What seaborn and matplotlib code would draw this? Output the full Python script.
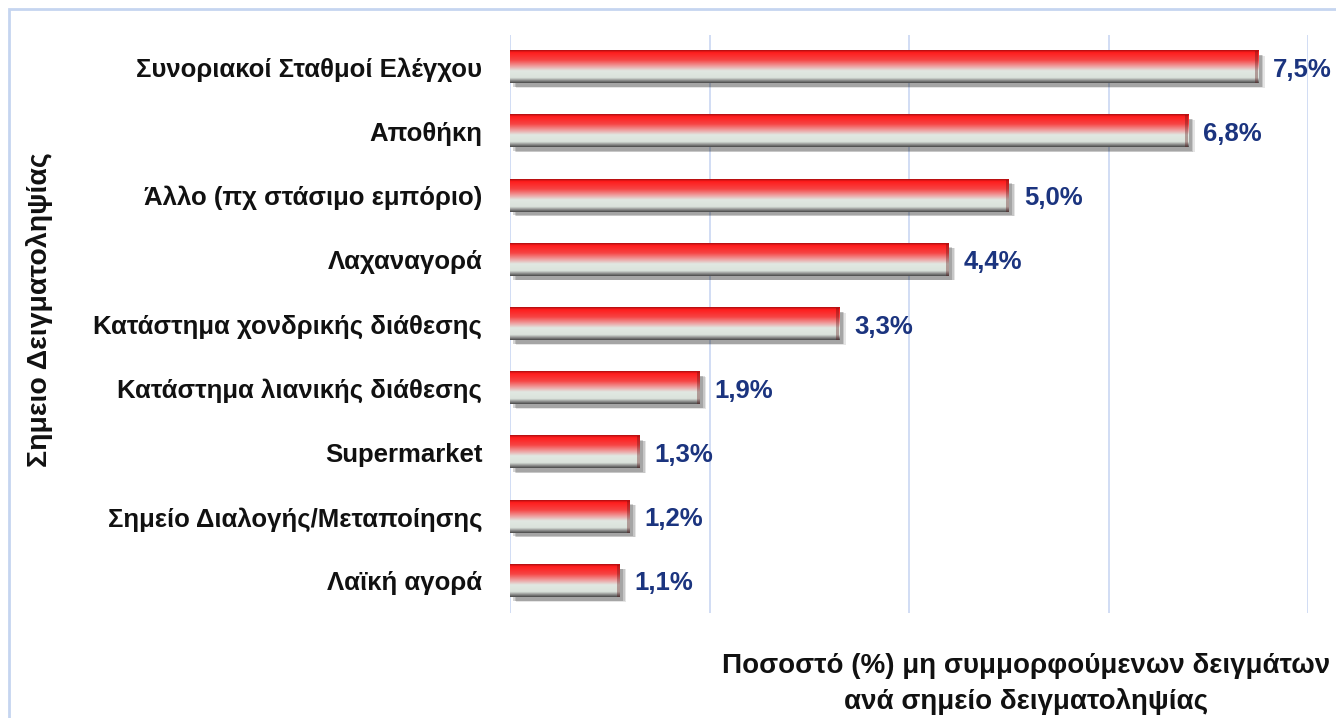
import numpy as np
import pandas as pd
import matplotlib
matplotlib.use("Agg")
import matplotlib.pyplot as plt
import seaborn as sns
from matplotlib.colors import LinearSegmentedColormap
from matplotlib.patches import Rectangle

categories = ["Συνοριακοί Σταθμοί Ελέγχου", "Αποθήκη", "Άλλο (πχ στάσιμο εμπόριο)",
              "Λαχαναγορά", "Κατάστημα χονδρικής διάθεσης", "Κατάστημα λιανικής διάθεσης",
              "Supermarket", "Σημείο Διαλογής/Μεταποίησης", "Λαϊκή αγορά"]
values = [7.5, 6.8, 5.0, 4.4, 3.3, 1.9, 1.3, 1.2, 1.1]
value_labels = ["7,5%", "6,8%", "5,0%", "4,4%", "3,3%", "1,9%", "1,3%", "1,2%", "1,1%"]
xlabel = "Ποσοστό (%) μη συμμορφούμενων δειγμάτων\nανά σημείο δειγματοληψίας"
ylabel = "Σημειο Δειγματοληψίας"

sns.set_theme(style="white")
FONT = ["Liberation Sans", "DejaVu Sans"]
plt.rcParams["font.family"] = FONT

df = pd.DataFrame({"cat": categories, "val": values})

fig = plt.figure(figsize=(13.36, 7.18), dpi=100)
W, H = 1336, 718
ax = fig.add_axes([510 / W, 1 - 613 / H, (1308 - 510) / W, (613 - 35) / H])

sns.barplot(data=df, x="val", y="cat", orient="h", width=0.5, ax=ax,
            color="red", edgecolor="none", zorder=3)

grad = LinearSegmentedColormap.from_list("bar", [
    (0.0, "#a80d10"), (0.07, "#ff1c1c"), (0.30, "#f64444"), (0.50, "#eea4a4"),
    (0.63, "#e1e8e2"), (0.84, "#dbe3dc"), (0.91, "#9a9c9a"), (1.0, "#474747")])
gimg = grad(np.linspace(0, 1, 256))[:, None, :]

for p, v, lab in zip(list(ax.patches), values, value_labels):
    x0, y0, w, h = p.get_x(), p.get_y(), p.get_width(), p.get_height()
    p.set_facecolor("none")
    for i, a in enumerate([0.10, 0.13, 0.17]):
        off = 0.015 * (3 - i)
        ax.add_patch(Rectangle((x0 + 0.02 + off, y0 + 0.05 + off * 0.5), w, h,
                               facecolor="black", alpha=a, edgecolor="none", zorder=2))
    ax.imshow(gimg, extent=(x0, x0 + w, y0 + h, y0), origin="upper",
              aspect="auto", zorder=3, interpolation="bilinear")
    ax.add_patch(Rectangle((x0 + w - 0.03, y0), 0.03, h, facecolor="#5a1010",
                           alpha=0.35, edgecolor="none", zorder=4))
    ax.text(v + 0.15, y0 + h / 2 + 0.04, lab, ha="left", va="center",
            fontsize=18.5, fontweight="bold", color="#1b347f", zorder=5)

ax.set_xlim(0, 8)
ax.set_ylim(len(categories) - 0.5, -0.5)
ax.set_xticks([0, 2, 4, 6, 8])
ax.set_xticklabels([])
ax.tick_params(axis="x", length=0)
ax.tick_params(axis="y", length=0, pad=20, labelsize=18.5)
for t in ax.get_yticklabels():
    t.set_fontweight("bold")
    t.set_color("#111111")
ax.grid(axis="x", color="#c9d7f2", linewidth=1.2, zorder=0)
ax.grid(axis="y", visible=False)
for s in ax.spines.values():
    s.set_visible(False)
ax.set_xlabel("")
ax.set_ylabel("")

fig.text(40 / W, 1 - 310 / H, ylabel, rotation=90, ha="center", va="center",
         fontsize=20.5, fontweight="bold", color="#111111")
fig.text(1026 / W, 1 - 684 / H, xlabel, ha="center", va="center",
         fontsize=20, fontweight="bold", color="#111111", linespacing=1.4)

fig.patches.append(Rectangle((9 / W, -0.1), 1.2, 1 - 9 / H + 0.1, transform=fig.transFigure,
                             facecolor="none", edgecolor="#c5d5f0", linewidth=2, zorder=0))

fig.savefig("out.png", dpi=100)
